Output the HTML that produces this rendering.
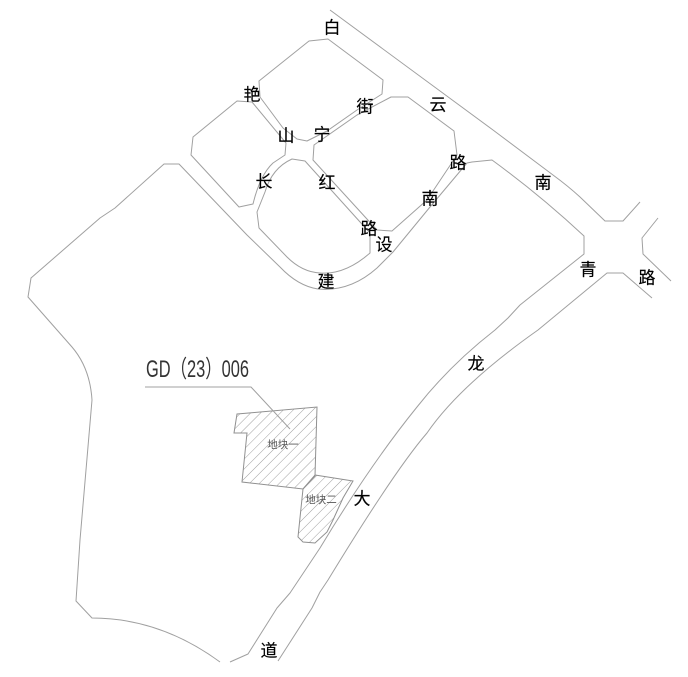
<!DOCTYPE html>
<html><head><meta charset="utf-8"><style>
html,body{margin:0;padding:0;background:#fff}
svg{display:block;filter:blur(0.3px)}
.r{fill:none;stroke:#a0a0a0;stroke-width:1;stroke-linejoin:round}
.l{font-family:"Liberation Sans","Noto Sans CJK SC",sans-serif;font-size:17px;fill:#000;stroke:#000;stroke-width:.15;text-anchor:middle;dominant-baseline:central}
.s{font-family:"Liberation Sans","Noto Sans CJK SC",sans-serif;font-size:10.5px;fill:#555;text-anchor:middle;dominant-baseline:central}
</style></head><body>
<svg width="688" height="677" viewBox="0 0 688 677" xmlns="http://www.w3.org/2000/svg">
<defs><pattern id="h" width="7" height="7" patternUnits="userSpaceOnUse" patternTransform="rotate(-45)"><line x1="0" y1="0" x2="7" y2="0" stroke="#a0a0a0" stroke-width="1"/></pattern></defs>
<path class="r" d="M309,41 L328,39 L383,80 L382,94 L357,110 L327,131 L307,141 L297,139 L283,128 L260,97 L259,81 Z"/>
<path class="r" d="M237,101 L252,102 L286,143 L285,155 L273,163 Q260,175 253,204 L239,207 L191,155 L193,137 Z"/>
<path class="r" d="M292,159 L305,161 L370,233 L370,253 Q345,275 320,273 Q302,272 287,257 L259,228 L257,212 L265,192 Q272,168 292,159 Z"/>
<path class="r" d="M391,97 L408,97 L454,131 L457,155 L447,170 L427,200 L392,231 L377,230 L313,160 L314,145 L357,115 Z"/>
<path class="r" d="M330,10 L493,130 L553,175 Q568,186 580,197 L605,221 L623,221 L640,202"/>
<path class="r" d="M658,218 L642,238 L643,254 L671,281"/>
<path class="r" d="M652,298 L623,273 L607,273 L538,330 Q460,385 427,433 Q395,470 328,580 L320,592 L312,608 L278,661"/>
<path class="r" d="M230,662 L248,654 L277,608 L290,593 L320,548 Q370,465 417,407 Q450,365 495,330 L508,318 L520,305 L584,254 L584,236 Q540,195 492,160 L472,162 L467,163 L430,207 L393,252 L377,268 Q350,292 318,289 Q298,286 280,267 L247,235 L179,164 L164,164 L115,208 L100,218 L31,278 L28,297 L72,347 Q90,368 92,400 L80,540 L76,601 L92,618 Q160,618 220,662"/>
<path d="M237,414 L317,407 L315,476 L303,489 L242,482 L247,433 L234,433 Z" fill="url(#h)" stroke="#909090"/>
<path d="M315,475 L353,481 L343,498 L333,520 L327,532 L315,543 L303,542 L298,537 L303,489 Z" fill="url(#h)" stroke="#909090"/>
<path class="r" d="M145,387 L251,387 L290,429"/>
<text x="146" y="377" font-family="'Liberation Sans','Noto Sans CJK SC',sans-serif" font-size="24" fill="#333" textLength="103" lengthAdjust="spacingAndGlyphs">GD（23）006</text>
<text class="l" x="332" y="28">白</text>
<text class="l" x="252" y="95">艳</text>
<text class="l" x="286" y="136">山</text>
<text class="l" x="322" y="135">宁</text>
<text class="l" x="365" y="107">街</text>
<text class="l" x="438" y="105">云</text>
<text class="l" x="458" y="163">路</text>
<text class="l" x="430" y="199">南</text>
<text class="l" x="264" y="182">长</text>
<text class="l" x="327" y="183">红</text>
<text class="l" x="369" y="229">路</text>
<text class="l" x="384" y="245">设</text>
<text class="l" x="326" y="282">建</text>
<text class="l" x="543" y="183">南</text>
<text class="l" x="588" y="270">青</text>
<text class="l" x="647" y="278">路</text>
<text class="l" x="476" y="364">龙</text>
<text class="l" x="362" y="499">大</text>
<text class="l" x="269" y="651">道</text>
<text class="s" x="283" y="445">地块一</text>
<text class="s" x="321" y="500">地块二</text>
</svg>
</body></html>
